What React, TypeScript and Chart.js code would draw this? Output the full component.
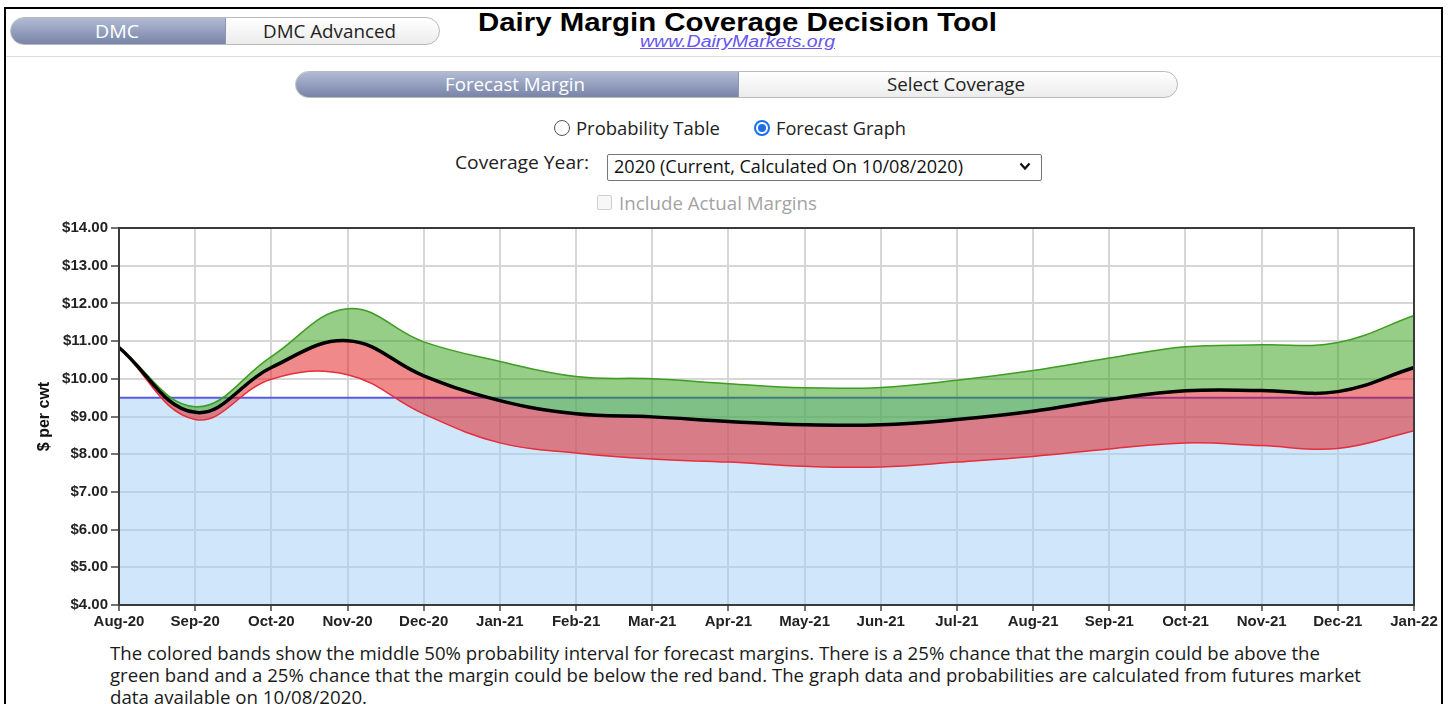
import React, { useEffect, useLayoutEffect, useRef } from 'react';
import { Chart, registerables } from 'chart.js';

Chart.register(...registerables);

// ---------------- data ----------------
const months = [
  'Aug-20', 'Sep-20', 'Oct-20', 'Nov-20', 'Dec-20', 'Jan-21', 'Feb-21', 'Mar-21', 'Apr-21',
  'May-21', 'Jun-21', 'Jul-21', 'Aug-21', 'Sep-21', 'Oct-21', 'Nov-21', 'Dec-21', 'Jan-22',
];
const medianMargin = [10.83, 9.11, 10.3, 11.01, 10.08, 9.42, 9.07, 8.99, 8.87, 8.78, 8.78, 8.92, 9.14, 9.45, 9.68, 9.69, 9.66, 10.3];
const upperBand = [10.83, 9.26, 10.59, 11.86, 10.98, 10.46, 10.06, 10.0, 9.87, 9.76, 9.77, 9.96, 10.22, 10.55, 10.85, 10.9, 10.96, 11.68];
const lowerBand = [10.83, 8.92, 9.99, 10.11, 9.07, 8.3, 8.03, 7.87, 7.79, 7.68, 7.66, 7.79, 7.94, 8.14, 8.3, 8.23, 8.15, 8.62];
const coverageLevel = [9.5, 9.5, 9.5, 9.5, 9.5, 9.5, 9.5, 9.5, 9.5, 9.5, 9.5, 9.5, 9.5, 9.5, 9.5, 9.5, 9.5, 9.5];
const yAxisMin = 4;
const yAxisMax = 14;
const yAxisStep = 1;
const yAxisTitle = '$ per cwt';

const captionLines = [
  'The colored bands show the middle 50% probability interval for forecast margins. There is a 25% chance that the margin could be above the',
  'green band and a 25% chance that the margin could be below the red band. The graph data and probabilities are calculated from futures market',
  'data available on 10/08/2020.',
];

const UI_FONT = "'Open Sans', 'Noto Sans', sans-serif";
const CHART_FONT = "'Liberation Sans', Arial, sans-serif";

// ---------------- helpers ----------------
function Fit({ x, cy, w, size, children, style }: any) {
  const ref = useRef<HTMLSpanElement>(null);
  useLayoutEffect(() => {
    const el = ref.current;
    if (!el) return;
    const fit = () => {
      el.style.transform = 'none';
      const nat = el.getBoundingClientRect().width;
      if (nat > 0) el.style.transform = `scaleX(${w / nat})`;
    };
    fit();
    if ((document as any).fonts && (document as any).fonts.ready) {
      (document as any).fonts.ready.then(fit);
    }
  });
  return (
    <span
      ref={ref}
      style={{
        position: 'absolute',
        left: x,
        top: cy - size * 0.6,
        fontSize: size,
        lineHeight: `${size * 1.2}px`,
        whiteSpace: 'nowrap',
        transformOrigin: '0 0',
        fontFamily: UI_FONT,
        ...style,
      }}
    >
      {children}
    </span>
  );
}

const framePlugin = {
  id: 'frame',
  afterDatasetsDraw(chart: any) {
    const { ctx, chartArea: a } = chart;
    ctx.save();
    ctx.strokeStyle = '#3a3a3a';
    ctx.lineWidth = 2;
    ctx.strokeRect(a.left, a.top, a.right - a.left, a.bottom - a.top);
    ctx.restore();
  },
};

function MarginChart() {
  const ref = useRef<HTMLCanvasElement>(null);
  useEffect(() => {
    if (!ref.current) return;
    const common = { pointRadius: 0, pointHoverRadius: 0, tension: 0.4 };
    const chart = new Chart(ref.current, {
      type: 'line',
      data: {
        labels: months,
        datasets: [
          { ...common, label: 'Median', data: medianMargin, borderColor: '#000000', borderWidth: 3.5, fill: false },
          {
            ...common, label: 'Upper', data: upperBand, borderColor: '#3f9c23', borderWidth: 1.5,
            backgroundColor: 'rgba(45,155,15,0.5)', fill: 0,
          },
          {
            ...common, label: 'Lower', data: lowerBand, borderColor: '#e62e3c', borderWidth: 1.5,
            backgroundColor: 'rgba(225,20,20,0.5)', fill: 0,
          },
          {
            ...common, tension: 0, label: 'Coverage', data: coverageLevel, borderColor: '#5a5ae6', borderWidth: 2,
            backgroundColor: 'rgba(160,205,248,0.5)', fill: 'start',
          },
        ],
      },
      options: {
        animation: false,
        responsive: false,
        devicePixelRatio: 1,
        events: [],
        layout: { padding: { top: 18, right: 26, bottom: 0, left: 0 } },
        plugins: {
          legend: { display: false },
          tooltip: { enabled: false },
          filler: { propagate: false },
        },
        scales: {
          x: {
            type: 'category',
            offset: false,
            grid: { color: '#d6d6d6', lineWidth: 2, tickColor: '#444', tickLength: 6, tickWidth: 1.5 },
            border: { color: '#3a3a3a', width: 2 },
            ticks: {
              autoSkip: false, maxRotation: 0, padding: 2, color: '#222',
              font: { family: CHART_FONT, size: 15, weight: 'bold' },
            },
            afterFit: (s: any) => { s.height = 25; },
          },
          y: {
            min: yAxisMin,
            max: yAxisMax,
            grid: { color: '#d6d6d6', lineWidth: 2, tickColor: '#444', tickLength: 8, tickWidth: 1.5 },
            border: { color: '#3a3a3a', width: 2 },
            ticks: {
              stepSize: yAxisStep, padding: 3, color: '#222',
              font: { family: CHART_FONT, size: 15, weight: 'bold' },
              callback: (v: any) => '$' + Number(v).toFixed(2),
            },
            title: {
              display: true, text: yAxisTitle, color: '#111',
              font: { family: CHART_FONT, size: 16, weight: 'bold' },
              padding: { top: 35, bottom: 0 },
            },
            afterFit: (s: any) => { s.width = 119; },
          },
        },
      },
      plugins: [framePlugin],
    } as any);
    return () => chart.destroy();
  }, []);
  return (
    <canvas
      ref={ref}
      width={1440}
      height={420}
      style={{ position: 'absolute', left: 0, top: 210, width: 1440, height: 420, display: 'block' }}
    />
  );
}

function Pill({ left, top, width, height, split }: any) {
  return (
    <div
      style={{
        position: 'absolute', left, top, width, height, boxSizing: 'border-box',
        borderRadius: height / 2, border: '1px solid #b9b9b9', overflow: 'hidden',
        background: 'linear-gradient(#ffffff, #ececec)',
      }}
    >
      <div
        style={{
          position: 'absolute', left: 0, top: 0, bottom: 0, width: split,
          background: 'linear-gradient(#b1bbd4, #7884a8)', borderRight: '1px solid #8d97b3',
        }}
      />
    </div>
  );
}

export default function App() {
  return (
    <div
      style={{
        position: 'fixed', left: 0, top: 0, width: 1448, height: 704, overflow: 'hidden',
        background: '#ffffff', fontFamily: UI_FONT,
      }}
    >
      {/* outer frame */}
      <div
        style={{
          position: 'absolute', left: 4, top: 7, width: 1439, height: 760, boxSizing: 'border-box',
          border: '2px solid #000',
        }}
      />
      {/* separator */}
      <div style={{ position: 'absolute', left: 6, top: 56, width: 1435, height: 1, background: '#dcdcdc' }} />

      {/* top tabs */}
      <Pill left={10} top={17} width={430} height={28} split={214} />
      <Fit x={95} cy={31} w={44} size={17.5} style={{ color: '#fff' }}>DMC</Fit>
      <Fit x={263} cy={31} w={133} size={17.5} style={{ color: '#222' }}>DMC Advanced</Fit>

      {/* title */}
      <Fit x={478} cy={22} w={519} size={25} style={{ fontFamily: CHART_FONT, fontWeight: 'bold', color: '#000' }}>
        Dairy Margin Coverage Decision Tool
      </Fit>
      <Fit
        x={640} cy={42} w={195} size={16}
        style={{ fontFamily: CHART_FONT, fontStyle: 'italic', textDecoration: 'underline', color: '#6655ee' }}
      >
        www.DairyMarkets.org
      </Fit>

      {/* second tabs */}
      <Pill left={295} top={71} width={883} height={27} split={442} />
      <Fit x={445} cy={85} w={140} size={18} style={{ color: '#fff' }}>Forecast Margin</Fit>
      <Fit x={887} cy={85} w={138} size={18} style={{ color: '#222' }}>Select Coverage</Fit>

      {/* radios */}
      <div
        style={{
          position: 'absolute', left: 554, top: 120, width: 16, height: 16, boxSizing: 'border-box',
          borderRadius: 8, border: '1px solid #555', background: '#fff',
        }}
      />
      <Fit x={576} cy={128} w={144} size={19} style={{ color: '#222' }}>Probability Table</Fit>
      <div
        style={{
          position: 'absolute', left: 754, top: 120, width: 16, height: 16, boxSizing: 'border-box',
          borderRadius: 8, border: '2px solid #1a6fe8', background: '#fff',
        }}
      >
        <div style={{ position: 'absolute', left: 2, top: 2, width: 8, height: 8, borderRadius: 4, background: '#1a6fe8' }} />
      </div>
      <Fit x={776} cy={128} w={130} size={19} style={{ color: '#222' }}>Forecast Graph</Fit>

      {/* coverage year */}
      <Fit x={455} cy={163} w={134} size={18} style={{ color: '#222' }}>Coverage Year:</Fit>
      <div
        style={{
          position: 'absolute', left: 607, top: 154, width: 435, height: 27, boxSizing: 'border-box',
          border: '1px solid #767676', borderRadius: 2, background: '#fff',
        }}
      />
      <Fit x={614} cy={167} w={349} size={18} style={{ color: '#111' }}>2020 (Current, Calculated On 10/08/2020)</Fit>
      <svg style={{ position: 'absolute', left: 1019, top: 162 }} width={12} height={9} viewBox="0 0 12 9">
        <polyline points="1.5,1.5 6,6.5 10.5,1.5" fill="none" stroke="#111" strokeWidth={2.2} />
      </svg>

      {/* disabled checkbox */}
      <div
        style={{
          position: 'absolute', left: 597, top: 195, width: 15, height: 15, boxSizing: 'border-box',
          border: '1px solid #cfcfcf', borderRadius: 2, background: '#f7f7f7',
        }}
      />
      <Fit x={619} cy={203} w={198} size={19} style={{ color: '#a3a3a3' }}>Include Actual Margins</Fit>

      {/* chart */}
      <MarginChart />

      {/* caption */}
      <Fit x={110} cy={653} w={1210} size={18.5} style={{ color: '#1a1a1a' }}>{captionLines[0]}</Fit>
      <Fit x={110} cy={675} w={1251} size={18.5} style={{ color: '#1a1a1a' }}>{captionLines[1]}</Fit>
      <Fit x={110} cy={697} w={257} size={18.5} style={{ color: '#1a1a1a' }}>{captionLines[2]}</Fit>
    </div>
  );
}
